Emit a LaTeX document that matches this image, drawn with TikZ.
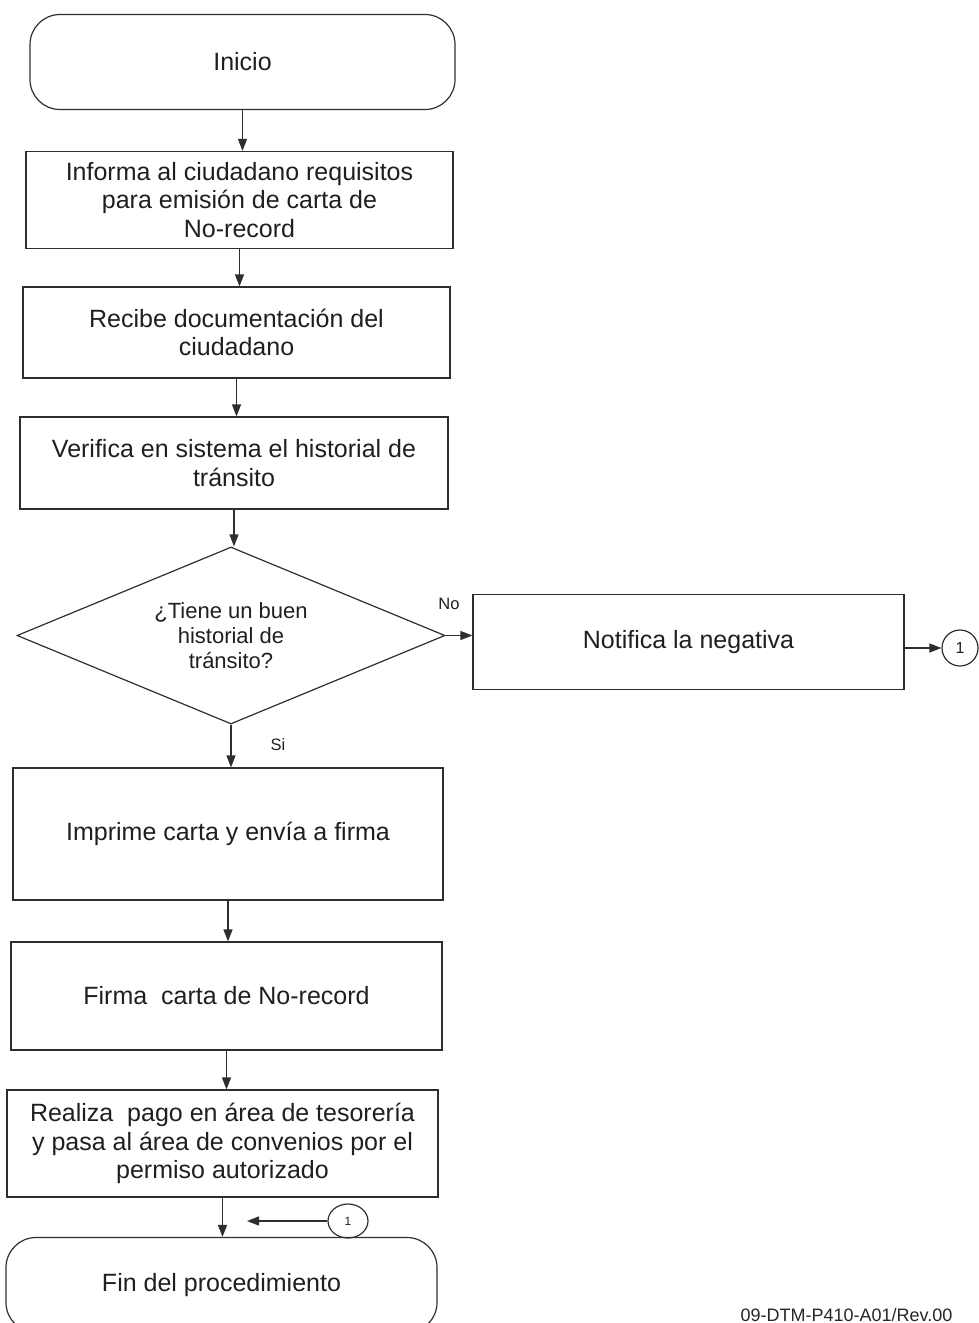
\documentclass[tikz,border=0pt]{standalone}
\usepackage{fontspec}
\setmainfont{Liberation Sans}
\usetikzlibrary{arrows.meta,shapes.geometric}

\tikzset{
  ink/.style={draw=black!82, text=black!88},
  proc/.style={ink, rectangle, inner sep=0pt, align=center,
    font=\fontsize{25}{28.5}\selectfont},
  term/.style={ink, rectangle, rounded corners=30pt, inner sep=0pt, align=center,
    font=\fontsize{25}{28.5}\selectfont},
  decis/.style={ink, diamond, aspect=2.4, inner sep=0pt, align=center,
    font=\fontsize{22}{25}\selectfont},
  conn/.style={ink, ellipse, inner sep=0pt},
  lbl/.style={text=black!88, inner sep=0pt, font=\fontsize{16.5}{16.5}\selectfont},
  arr/.style={draw=black!82, -{Triangle[length=12pt,width=9pt]}},
}

\begin{document}
\begin{tikzpicture}[x=1pt, y=-1pt, line width=1.2pt]
\useasboundingbox (0,0) rectangle (979,1323);
\clip (0,0) rectangle (979,1323);

% main column
\node[term, minimum width=425pt, minimum height=95pt] (start) at (242.5,62) {Inicio};
\node[proc, minimum width=427pt, minimum height=97pt] (b1) at (239.5,200)
  {Informa al ciudadano requisitos\\para emisión de carta de\\No-record};
\node[proc, minimum width=427pt, minimum height=91pt] (b2) at (236.5,332.5)
  {Recibe documentación del\\ciudadano};
\node[proc, minimum width=428pt, minimum height=92pt] (b3) at (234,463)
  {Verifica en sistema el historial de\\tránsito};
\node[decis, minimum width=428pt, minimum height=177pt] (dia) at (231,635.5)
  {¿Tiene un buen\\historial de\\tránsito?};
\node[proc, minimum width=430pt, minimum height=132pt] (b5) at (228,834)
  {Imprime carta y envía a firma};
\node[proc, minimum width=431pt, minimum height=108pt] (b6) at (226.5,996)
  {Firma\ \ carta de No-record};
\node[proc, minimum width=431pt, minimum height=107pt] (b7) at (222.5,1143.5)
  {Realiza\ \ pago en área de tesorería\\y pasa al área de convenios por el\\permiso autorizado};
\node[term, minimum width=431pt, minimum height=95pt] (end) at (221.5,1285)
  {Fin del procedimiento};

% "No" branch
\node[proc, minimum width=431pt, minimum height=95pt] (b4) at (688.5,642)
  {Notifica la negativa};
\node[conn, minimum width=36pt, minimum height=36pt,
  font=\fontsize{16}{16}\selectfont] (c1) at (960,648) {1};

% off-page connector returning above the end
\node[conn, minimum width=40pt, minimum height=34pt,
  font=\fontsize{12}{12}\selectfont] (c2) at (348,1221) {1};
\coordinate (c2tip) at (247,1221);

% branch labels
\node[lbl] (no) at (449,604) {No};
\node[lbl] (si) at (278,745) {Si};

% flow
\draw[arr] (start.south) -- (start.south |- b1.north);
\draw[arr] (b1.south) -- (b1.south |- b2.north);
\draw[arr] (b2.south) -- (b2.south |- b3.north);
\draw[arr] (b3.south) -- (b3.south |- dia.north);
\draw[arr] (dia.east) -- (dia.east -| b4.west);
\draw[arr] (b4.east |- c1.west) -- (c1.west);
\draw[arr] (dia.south) -- (dia.south |- b5.north);
\draw[arr] (b5.south) -- (b5.south |- b6.north);
\draw[arr] (b6.south) -- (b6.south |- b7.north);
\draw[arr] (b7.south) -- (b7.south |- end.north);
\draw[arr] (c2.west) -- (c2tip);

% document code
\node[anchor=base east, text=black!85, inner sep=0pt,
  font=\fontsize{18}{18}\selectfont] (code) at (953,1321) {09-DTM-P410-A01/Rev.00};
\end{tikzpicture}
\end{document}
